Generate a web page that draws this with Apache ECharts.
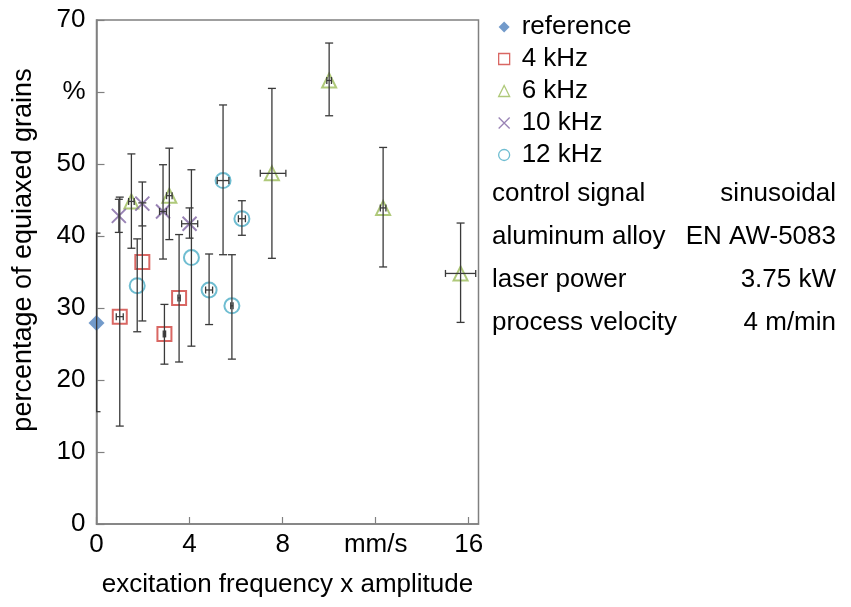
<!DOCTYPE html>
<html><head><meta charset="utf-8">
<script src="https://cdn.jsdelivr.net/npm/echarts@6/dist/echarts.min.js"></script>
<style>html,body{margin:0;padding:0;background:#fff}#c{width:851px;height:607px}</style>
</head><body><div id="c"></div>
<script>
// Each point: [x, y, yLow, yHigh, xLow, xHigh]
const seriesNames = ['reference', '4 kHz', '6 kHz', '10 kHz', '12 kHz'];
const referencePts = [[0, 27.9, 15.6, 40.4, 0, 0]];
const khz4Pts = [
  [1.0, 28.8, 13.6, 45.4, 0.85, 1.15],
  [1.97, 36.4, 28.2, 44.6, 1.97, 1.97],
  [2.92, 26.4, 22.2, 30.5, 2.87, 2.97],
  [3.55, 31.4, 22.5, 40.2, 3.5, 3.6]
];
const khz6Pts = [
  [1.5, 44.8, 38.3, 51.4, 1.38, 1.62],
  [3.13, 45.6, 39.5, 52.2, 3.01, 3.25],
  [7.54, 48.7, 36.9, 60.5, 7.04, 8.14],
  [10.0, 61.6, 56.7, 66.8, 9.9, 10.1],
  [12.32, 43.9, 35.7, 52.3, 12.2, 12.44],
  [15.65, 34.8, 28.0, 41.8, 15.0, 16.3]
];
const khz10Pts = [
  [0.96, 42.8, 40.5, 45.1, 0.96, 0.96],
  [1.97, 44.5, 41.4, 47.5, 1.97, 1.97],
  [2.86, 43.4, 36.8, 49.9, 2.71, 3.01],
  [4.0, 41.7, 39.7, 43.9, 3.66, 4.35]
];
const khz12Pts = [
  [1.75, 33.1, 26.7, 39.6, 1.75, 1.75],
  [4.08, 37.0, 24.7, 49.2, 4.08, 4.08],
  [5.44, 47.7, 37.4, 58.2, 5.19, 5.69],
  [4.84, 32.5, 27.7, 37.5, 4.69, 4.99],
  [6.25, 42.4, 40.1, 44.9, 6.1, 6.4],
  [5.82, 30.3, 22.9, 37.4, 5.77, 5.87]
];
const xTickLabels = {0: '0', 4: '4', 8: '8', 12: 'mm/s', 16: '16'};
const yTickLabels = {0: '0', 10: '10', 20: '20', 30: '30', 40: '40', 50: '50', 60: '%', 70: '70'};
const infoRows = [
  ['control signal', 'sinusoidal'],
  ['aluminum alloy', 'EN AW-5083'],
  ['laser power', '3.75 kW'],
  ['process velocity', '4 m/min']
];
const xAxisTitle = 'excitation frequency x amplitude';
const yAxisTitle = 'percentage of equiaxed grains';

const FONT = 'Liberation Sans, Arial, sans-serif';
const FS = 26;
const allPts = [referencePts, khz4Pts, khz6Pts, khz10Pts, khz12Pts];
const colors = ['#4F81BD', '#D0413C', '#9BBB59', '#8064A2', '#4BACC6'];
const symbols = ['diamond', 'rect', 'triangle', 'path://M0,0L10,10M10,0L0,10', 'circle'];
const symSizes = [16, 14, 14, 14, 15];

function renderErr(params, api) {
  const x = api.value(0), y = api.value(1), yl = api.value(2), yh = api.value(3), xl = api.value(4), xh = api.value(5);
  const pl = api.coord([x, yl]), ph = api.coord([x, yh]);
  const cap = 4;
  const style = {stroke: '#3a3a3a', lineWidth: 1.3};
  const ch = [
    {type: 'line', shape: {x1: pl[0], y1: pl[1], x2: ph[0], y2: ph[1]}, style},
    {type: 'line', shape: {x1: pl[0] - cap, y1: pl[1], x2: pl[0] + cap, y2: pl[1]}, style},
    {type: 'line', shape: {x1: ph[0] - cap, y1: ph[1], x2: ph[0] + cap, y2: ph[1]}, style}
  ];
  if (xh > xl) {
    const ql = api.coord([xl, y]), qh = api.coord([xh, y]);
    const hc = 3.5;
    ch.push({type: 'line', shape: {x1: ql[0], y1: ql[1], x2: qh[0], y2: qh[1]}, style});
    ch.push({type: 'line', shape: {x1: ql[0], y1: ql[1] - hc, x2: ql[0], y2: ql[1] + hc}, style});
    ch.push({type: 'line', shape: {x1: qh[0], y1: qh[1] - hc, x2: qh[0], y2: qh[1] + hc}, style});
  }
  return {type: 'group', children: ch};
}

const series = [];
allPts.forEach((pts, i) => {
  series.push({
    name: seriesNames[i],
    type: 'scatter',
    symbol: symbols[i],
    symbolSize: symSizes[i],
    data: pts.map(p => [p[0], p[1]]),
    itemStyle: i === 0 ? {color: colors[i]} : {color: 'rgba(255,255,255,0)', borderColor: colors[i], borderWidth: 2},
    z: 3,
    silent: true
  });
  series.push({
    type: 'custom',
    renderItem: renderErr,
    data: pts,
    clip: true,
    z: 4,
    silent: true,
    encode: {x: 0, y: 1}
  });
});

const graphics = [{
  type: 'text', x: 24, y: 250, rotation: Math.PI / 2,
  style: {text: yAxisTitle, font: '27px ' + FONT, fill: '#000', align: 'center', verticalAlign: 'middle'}
}];
infoRows.forEach((r, k) => {
  const yy = 194 + k * 43;
  graphics.push({type: 'text', x: 492, y: yy, style: {text: r[0], font: FS + 'px ' + FONT, fill: '#000', align: 'left', verticalAlign: 'middle'}});
  graphics.push({type: 'text', x: 836, y: yy, style: {text: r[1], font: FS + 'px ' + FONT, fill: '#000', align: 'right', verticalAlign: 'middle'}});
});

const chart = echarts.init(document.getElementById('c'), null, {renderer: 'canvas'});
chart.setOption({
  animation: false,
  backgroundColor: '#fff',
  grid: {left: 96.5, top: 20, width: 382, height: 504, show: true, borderColor: '#808080', borderWidth: 1.5, backgroundColor: 'transparent'},
  xAxis: {
    type: 'value', min: 0, max: 16.42, interval: 4,
    axisLine: {lineStyle: {color: '#808080', width: 1.5}},
    axisTick: {inside: true, length: 7, lineStyle: {color: '#808080', width: 1.2}},
    splitLine: {show: false},
    axisLabel: {showMaxLabel: false, margin: 8, fontSize: FS, fontFamily: FONT, color: '#000',
      formatter: v => (xTickLabels[v] !== undefined ? xTickLabels[v] : '')},
    name: xAxisTitle, nameLocation: 'middle', nameGap: 48,
    nameTextStyle: {fontSize: FS, fontFamily: FONT, color: '#000'}
  },
  yAxis: {
    type: 'value', min: 0, max: 70, interval: 10,
    axisLine: {lineStyle: {color: '#808080', width: 1.5}},
    axisTick: {inside: true, length: 8, lineStyle: {color: '#808080', width: 1.2}},
    splitLine: {show: false},
    axisLabel: {margin: 11, fontSize: FS, fontFamily: FONT, color: '#000',
      formatter: v => (yTickLabels[v] !== undefined ? yTickLabels[v] : '')}
  },
  legend: {
    orient: 'vertical', left: 493, top: 9, itemGap: 6, itemWidth: 11, itemHeight: 11,
    textStyle: {fontSize: FS, fontFamily: FONT, color: '#000', padding: [0, 0, 0, 7]},
    selectedMode: false,
    data: seriesNames.map((n, i) => ({name: n, icon: symbols[i],
      itemStyle: i === 0 ? {color: colors[i]} : {color: 'rgba(255,255,255,0)', borderColor: colors[i], borderWidth: 1.3}}))
  },
  graphic: graphics,
  series: series
});
</script></body></html>
